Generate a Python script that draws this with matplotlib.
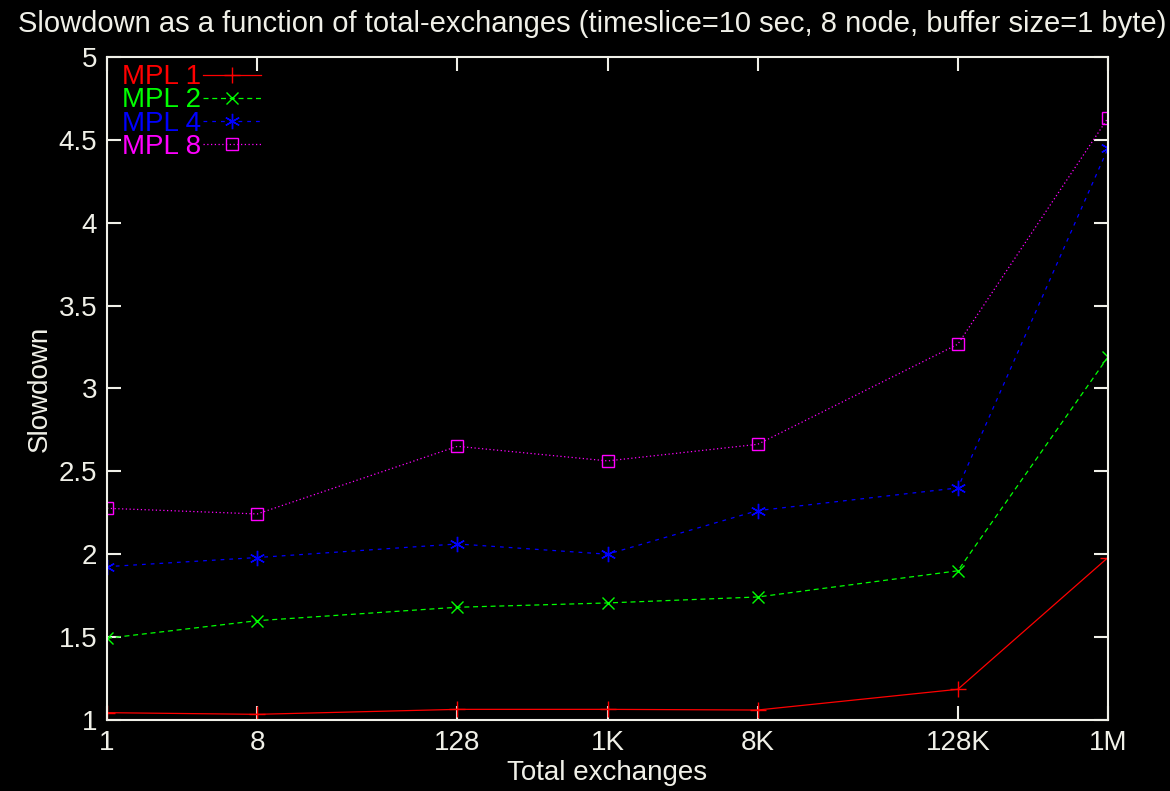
import matplotlib
matplotlib.use('Agg')
import matplotlib.pyplot as plt

plt.rcParams['font.family'] = ['Liberation Sans', 'DejaVu Sans']

# total exchanges (powers of two) and slowdown per multiprogramming level
exchanges = [1, 8, 128, 1024, 8192, 131072, 1048576]
tick_labels = ['1', '8', '128', '1K', '8K', '128K', '1M']
mpl1 = [1.044, 1.034, 1.064, 1.064, 1.06, 1.185, 1.98]
mpl2 = [1.493, 1.599, 1.68, 1.706, 1.742, 1.90, 3.19]
mpl4 = [1.925, 1.98, 2.062, 2.0, 2.263, 2.40, 4.449]
mpl8 = [2.277, 2.243, 2.651, 2.563, 2.663, 3.267, 4.632]

fg = '#f0f0e8'
fig = plt.figure(figsize=(11.7, 7.91), dpi=100, facecolor='black')
ax = fig.add_axes([0.0915, 0.0898, 0.8555, 0.8382], facecolor='black')

lw = 0.9
ax.plot(exchanges, mpl1, color='#ff0000', lw=lw, ls='-', marker='+', ms=11, mew=1, label='MPL 1')
ax.plot(exchanges, mpl2, color='#00ff00', lw=lw, ls=(0, (4, 3)), marker='x', ms=8, mew=1, label='MPL 2')
ax.plot(exchanges, mpl4, color='#0000ff', lw=lw, ls=(0, (3, 4)), marker=(6, 2, 0), ms=11, mew=1, label='MPL 4')
ax.plot(exchanges, mpl8, color='#ff00ff', lw=lw, ls=(0, (1, 2)), marker='s', ms=8, mew=1,
        mfc='none', label='MPL 8')

ax.set_xscale('log', base=2)
ax.set_xlim(1, 1048576)
ax.set_ylim(1, 5)
ax.set_xticks(exchanges)
ax.set_xticklabels(tick_labels)
ax.minorticks_off()
ax.set_yticks([1, 1.5, 2, 2.5, 3, 3.5, 4, 4.5, 5])
ax.set_yticklabels(['1', '1.5', '2', '2.5', '3', '3.5', '4', '4.5', '5'])

for s in ax.spines.values():
    s.set_color(fg)
    s.set_linewidth(1.5)
ax.tick_params(colors=fg, labelcolor=fg, direction='in', length=10, width=1.5,
               top=True, right=True, labelsize=20, pad=7)

ax.set_xlabel('Total exchanges', color=fg, fontsize=20, labelpad=3)
ax.set_ylabel('Slowdown', color=fg, fontsize=20, labelpad=4)
fig.text(0.506, 0.970, 'Slowdown as a function of total-exchanges '
         '(timeslice=10 sec, 8 node, buffer size=1 byte)',
         color=fg, fontsize=21, ha='center', va='center')

leg = ax.legend(loc='upper left', bbox_to_anchor=(0.015, 0.989), markerfirst=False,
                frameon=False, fontsize=20, labelcolor='linecolor', handlelength=2.1,
                handletextpad=0.05, labelspacing=-0.1, borderaxespad=0.0, borderpad=0.0)

fig.savefig('out.png', dpi=100, facecolor='black')
